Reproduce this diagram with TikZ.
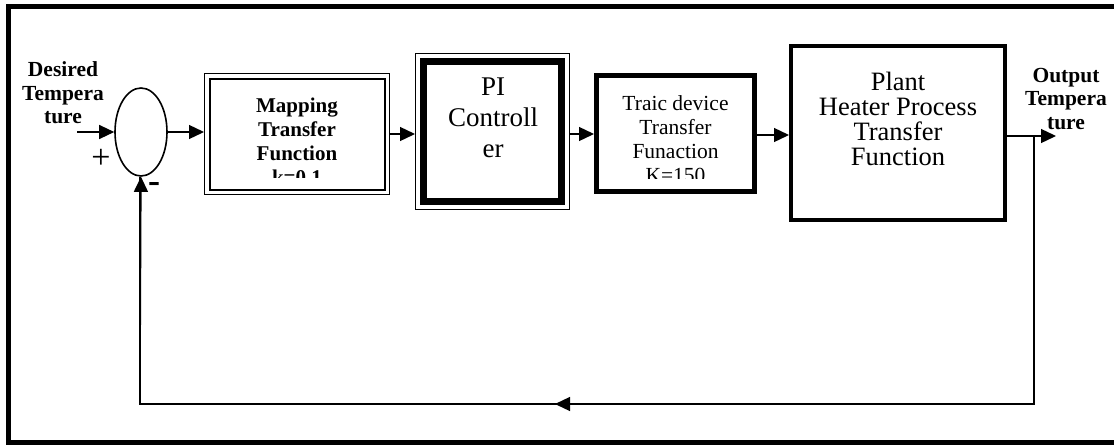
\documentclass[tikz,border=0pt]{standalone}
\usepackage{fontspec}
\setmainfont{Liberation Serif}
\usetikzlibrary{arrows.meta,calc,shapes.geometric}

\tikzset{
  link/.style={line width=1.3pt,-{Triangle[length=15pt,width=14pt]}},
  wire/.style={line width=1.3pt},
  lbl/.style={align=center,inner sep=0pt},
  boldlbl/.style={lbl,font=\fontsize{21.5}{23.5}\selectfont\bfseries},
}

\begin{document}
\begin{tikzpicture}[x=1pt,y=-1pt]
\useasboundingbox (0,0) rectangle (1114,445);

% outer frame (open on the right)
\draw[line width=5pt] (1114,6) -- (8,6) -- (8,442) -- (1114,442);

% summing junction
\node[ellipse,draw,line width=1.6pt,minimum width=52pt,minimum height=88pt,inner sep=0pt] (sum) at (141,132) {};

% mapping block: thin outer line, heavier inner line
\node[draw,line width=1pt,minimum width=185pt,minimum height=121pt,inner sep=0pt] (map) at (297,134) {};
\draw[line width=2pt] ($(map.north west)+(5.5,5.5)$) rectangle ($(map.south east)+(-5.5,-5.5)$);

% PI controller: thin outer line, very heavy inner line
\node[draw,line width=1pt,minimum width=154pt,minimum height=156pt,inner sep=0pt] (pi) at (492.5,131) {};
\draw[line width=7pt] ($(pi.north west)+(8.5,8.5)$) rectangle ($(pi.south east)+(-8.5,-8.5)$);

% triac block
\node[draw,line width=5pt,minimum width=158pt,minimum height=116pt,inner sep=0pt] (triac) at (675.5,133.5) {};

% plant block
\node[draw,line width=4pt,minimum width=214pt,minimum height=174pt,inner sep=0pt] (plant) at (898,133) {};

% block texts
\begin{scope}
  \clip (200,60) rectangle (400,177);
  \node[lbl,font=\fontsize{21}{24}\selectfont\bfseries] (maptxt) at (297,141) {Mapping\\Transfer\\Function\\k=0.1};
\end{scope}
\node[lbl,font=\fontsize{27}{31}\selectfont] (pitxt) at (493,118) {PI\\Controll\\er};
\begin{scope}
  \clip (590,60) rectangle (760,178);
  \node[lbl,font=\fontsize{21.5}{24}\selectfont] (triactxt) at (675.5,139) {Traic device\\Transfer\\Funaction\\K=150};
\end{scope}
\node[lbl,font=\fontsize{26.5}{25}\selectfont] (planttxt) at (898,119) {Plant\\Heater Process\\Transfer\\Function};

% signal labels
\node[boldlbl] (desired) at (63,93) {Desired\\Tempera\\ture};
\node[boldlbl] (output) at (1066,99) {Output\\Tempera\\ture};
\node[lbl,font=\fontsize{34}{34}\selectfont] (plus) at (101,159) {+};
\node[lbl,font=\fontsize{36}{36}\selectfont\bfseries] (minus) at (154,187) {-};

% forward path
\coordinate (in) at (77,132);
\coordinate (out) at (1056,136);
\coordinate (tap) at (1034,136);
\draw[link] (in) -- (sum.west);
\draw[link] (sum.east) -- (sum.east -| map.west);
\draw[link] (map.east |- 0,134) -- (pi.west |- 0,134);
\draw[link] (pi.east |- 0,134) -- (triac.west |- 0,134);
\draw[link] (triac.east |- 0,135) -- (plant.west |- 0,135);
\draw[link] (plant.east |- out) -- (out);

% feedback path
\coordinate (fbr) at (1034,404);
\coordinate (fbmid) at (555,404);
\coordinate (fbl) at (140,404);
\draw[wire] (tap) -- (fbr) -- (fbl) -- (sum.south -| fbl);
\draw[link] (fbr) -- (fbmid);
\draw[link] (fbl) -- (sum.south);
\end{tikzpicture}
\end{document}
